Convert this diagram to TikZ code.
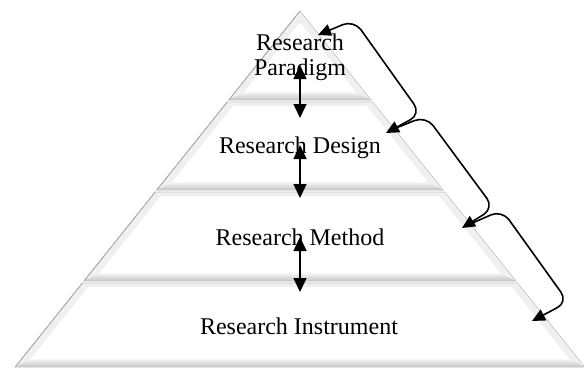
\documentclass[tikz,border=0pt]{standalone}
\usepackage{fontspec}
\setmainfont{Liberation Serif}
\usetikzlibrary{arrows.meta}
\newcommand\pyrlayer[3]{%
  \pgfmathsetmacro\hwt{0.8*(#1-11)}%
  \pgfmathsetmacro\hwb{0.8*(#2-11)}%
  \pgfmathsetmacro\hwit{max(0.8*(#3-11)-9,0)}%
  \pgfmathsetmacro\iyb{#2-8}%
  \pgfmathsetmacro\hwib{0.8*(\iyb-11)-9}%
  \fill[bevelfill] (300-\hwt,#1) -- (300+\hwt,#1) -- (300+\hwb,#2) -- (300-\hwb,#2) -- cycle;
  \shade[top color=gray!8,bottom color=gray!45] (300-\hwib,\iyb) -- (300+\hwib,\iyb) -- (300+\hwb,#2) -- (300-\hwb,#2) -- cycle;
  \fill[white] (300-\hwit,#3) -- (300+\hwit,#3) -- (300+\hwib,\iyb) -- (300-\hwib,\iyb) -- cycle;
  \draw[layeredge] (300-\hwt,#1) -- (300+\hwt,#1) -- (300+\hwb,#2) -- (300-\hwb,#2) -- cycle;
  \draw[layerleft] (300-\hwt,#1) -- (300-\hwb,#2);
}
\begin{document}
\begin{tikzpicture}[x=1pt,y=-1pt,
  bevelfill/.style={fill=gray!12},
  layeredge/.style={draw=gray!45,line width=0.7pt},
  layerleft/.style={draw=gray!65,line width=0.9pt},
  lbl/.style={font=\fontsize{24}{25}\selectfont,inner sep=0pt,anchor=base,align=center},
  vlink/.style={{Triangle[width=13pt,length=14pt]}-{Triangle[width=13pt,length=14pt]},line width=1.5pt},
  clink/.style={line width=1.6pt,rounded corners=12pt,line join=round},
  chead/.style={-{Triangle[width=12pt,length=13pt]}},
  cheads/.style={{Triangle[width=12pt,length=13pt]}-{Triangle[width=12pt,length=13pt]}}]
\useasboundingbox (0,0) rectangle (584,368);
\fill[white] (0,0) rectangle (584,368);
% pyramid layers
\pyrlayer{11}{100}{24}
\pyrlayer{102}{190}{106}
\pyrlayer{192}{281}{196}
\pyrlayer{283}{367}{287}
% labels
\node[lbl] (paradigm) at (300,75) {Research\\Paradigm};
\node[lbl] (design) at (300,153) {Research Design};
\node[lbl] (method) at (300,245) {Research Method};
\node[lbl] (instrument) at (299,334) {Research Instrument};
% vertical links
\coordinate (v1a) at (300,65);
\coordinate (v1b) at (300,118);
\coordinate (v2a) at (300,145);
\coordinate (v2b) at (300,198);
\coordinate (v3a) at (300,237);
\coordinate (v3b) at (300,292);
\draw[vlink] (v1a) -- (v1b);
\draw[vlink] (v2a) -- (v2b);
\draw[vlink] (v3a) -- (v3b);
% side curved links
\coordinate (c1) at (318,35);
\coordinate (k1a) at (354,20);
\coordinate (k1b) at (421,114);
\coordinate (c2) at (386,133);
\coordinate (s2) at (391,130);
\coordinate (k2a) at (426,116);
\coordinate (k2b) at (494,208);
\coordinate (c3) at (462,228);
\coordinate (s3) at (468,225);
\coordinate (k3a) at (502,210);
\coordinate (k3b) at (568,302);
\coordinate (c4) at (532,321);
\draw[clink,cheads] (c1) -- (k1a) -- (k1b) -- (c2);
\draw[clink,chead] (s2) -- (k2a) -- (k2b) -- (c3);
\draw[clink,chead] (s3) -- (k3a) -- (k3b) -- (c4);
\end{tikzpicture}
\end{document}
